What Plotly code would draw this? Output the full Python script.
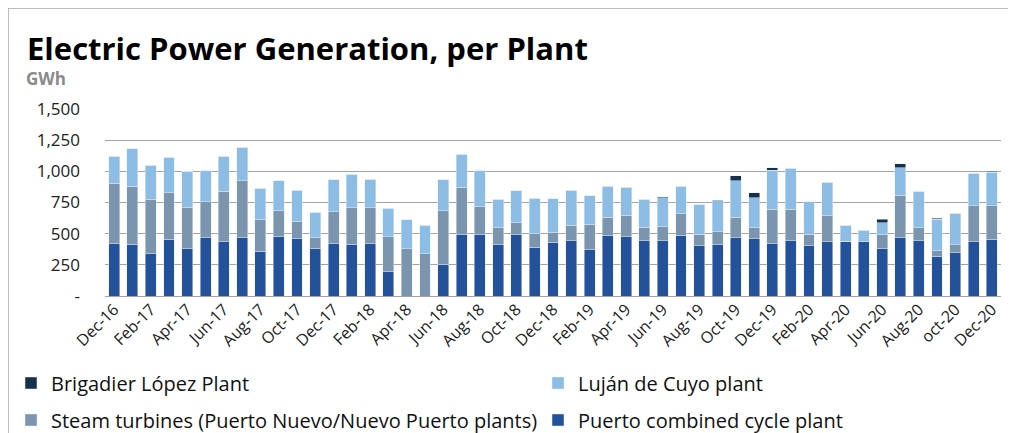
import plotly.graph_objects as go

# Monthly generation per plant, GWh
months = ['Dec-16', 'Jan-17', 'Feb-17', 'Mar-17', 'Apr-17', 'May-17', 'Jun-17', 'Jul-17',
          'Aug-17', 'Sep-17', 'Oct-17', 'Nov-17', 'Dec-17', 'Jan-18', 'Feb-18', 'Mar-18',
          'Apr-18', 'May-18', 'Jun-18', 'Jul-18', 'Aug-18', 'Sep-18', 'Oct-18', 'Nov-18',
          'Dec-18', 'Jan-19', 'Feb-19', 'Mar-19', 'Apr-19', 'May-19', 'Jun-19', 'Jul-19',
          'Aug-19', 'Sep-19', 'Oct-19', 'Nov-19', 'Dec-19', 'Jan-20', 'Feb-20', 'Mar-20',
          'Apr-20', 'May-20', 'Jun-20', 'Jul-20', 'Aug-20', 'Sep-20', 'oct-20', 'Nov-20',
          'Dec-20']

puerto_cc = [420, 415, 340, 455, 380, 466, 434, 466, 359, 477, 458, 383, 420, 413, 420, 193,
             0, 0, 254, 493, 493, 413, 493, 391, 431, 442, 370, 488, 474, 442, 442, 488,
             402, 413, 466, 458, 420, 442, 402, 434, 439, 437, 380, 466, 442, 319, 348, 437,
             455]
steam = [483, 466, 437, 375, 330, 289, 407, 458, 252, 206, 142, 83, 255, 294, 287, 281,
         380, 340, 429, 378, 228, 134, 94, 110, 81, 126, 206, 144, 174, 110, 115, 171,
         94, 101, 166, 89, 274, 252, 94, 209, 0, 0, 113, 343, 105, 43, 65, 286,
         268]
lujan = [219, 300, 270, 284, 289, 250, 281, 271, 254, 241, 249, 206, 257, 271, 228, 228,
         233, 228, 249, 265, 284, 230, 257, 284, 268, 281, 230, 249, 223, 225, 233, 222,
         238, 250, 292, 241, 313, 332, 259, 270, 129, 91, 96, 220, 294, 254, 249, 263,
         271]
brigadier = [0, 0, 0, 0, 0, 0, 0, 0, 0, 0, 0, 0, 0, 0, 0, 0,
             0, 0, 0, 0, 0, 0, 0, 0, 0, 0, 0, 0, 0, 0, 8, 0,
             0, 5, 40, 42, 22, 0, 3, 0, 0, 0, 27, 32, 0, 8, 0, 0,
             6]

y_ticks = [0, 250, 500, 750, 1000, 1250, 1500]
y_ticktext = ['-', '250', '500', '750', '1,000', '1,250', '1,500']

# page body has an 8px default margin, so the figure is shrunk and shifted by it
OFF = 8
W, H = 1016 - OFF, 433 - OFF
ML, MR, MT, MB = 105 - OFF, 15, 109 - OFF, 137
PW, PH = W - ML - MR, H - MT - MB


def px(x):
    # screen pixel -> paper x
    return (x - OFF - ML) / PW


def py(y):
    # screen pixel -> paper y
    return (H - MB - (y - OFF)) / PH


FONT = 'Open Sans'

fig = go.Figure()
fig.add_trace(go.Bar(x=months, y=puerto_cc, name='Puerto combined cycle plant',
                     marker_color='#23519a', legend='legend4'))
fig.add_trace(go.Bar(x=months, y=steam, name='Steam turbines (Puerto Nuevo/Nuevo Puerto plants)',
                     marker_color='#7a95ad', legend='legend3'))
fig.add_trace(go.Bar(x=months, y=lujan, name='Luján de Cuyo plant',
                     marker_color='#8cbde5', legend='legend2'))
fig.add_trace(go.Bar(x=months, y=brigadier, name='Brigadier López Plant',
                     marker_color='#14304d', legend='legend'))


def legend_at(x, y):
    return dict(orientation='h', xanchor='left', yanchor='middle', x=px(x), y=py(y),
                font=dict(family=FONT, size=20, color='#111'),
                bgcolor='rgba(0,0,0,0)', itemclick=False, itemdoubleclick=False)


fig.update_layout(
    width=W, height=H,
    margin=dict(l=ML, r=MR, t=MT, b=MB, autoexpand=False),
    barmode='stack', bargap=0.4,
    plot_bgcolor='white', paper_bgcolor='white',
    showlegend=True,
    legend=legend_at(11, 383),
    legend2=legend_at(538, 383),
    legend3=legend_at(11, 420),
    legend4=legend_at(538, 420),
    xaxis=dict(
        type='category',
        tickmode='array', tickvals=months[::2], ticktext=months[::2],
        tickangle=-45, ticks='', showgrid=False, showline=False,
        tickfont=dict(family=FONT, size=16, color='#222'),
    ),
    yaxis=dict(
        range=[0, 1500], tickvals=y_ticks, ticktext=y_ticktext,
        showgrid=True, gridcolor='#a3a3a3', gridwidth=1.2,
        zeroline=True, zerolinecolor='#a3a3a3', zerolinewidth=1.2,
        showline=False, ticks='', ticklabelstandoff=24,
        tickfont=dict(family=FONT, size=17, color='#222'),
    ),
    annotations=[
        dict(text='<b>Electric Power Generation, per Plant</b>', xref='paper', yref='paper',
             x=px(25), y=py(48), xanchor='left', yanchor='middle', showarrow=False,
             font=dict(family=FONT, size=31, color='#000')),
        dict(text='<b>GWh</b>', xref='paper', yref='paper',
             x=px(24), y=py(78), xanchor='left', yanchor='middle', showarrow=False,
             font=dict(family=FONT, size=17, color='#8a8a8a')),
    ],
    shapes=[
        dict(type='line', xref='paper', yref='paper', x0=px(8), x1=px(1016), y0=py(8), y1=py(8),
             line=dict(color='#a8a8a8', width=1.5)),
        dict(type='line', xref='paper', yref='paper', x0=px(8), x1=px(8), y0=py(8), y1=py(433),
             line=dict(color='#a8a8a8', width=1.5)),
    ],
)

fig.write_html('out.html')
